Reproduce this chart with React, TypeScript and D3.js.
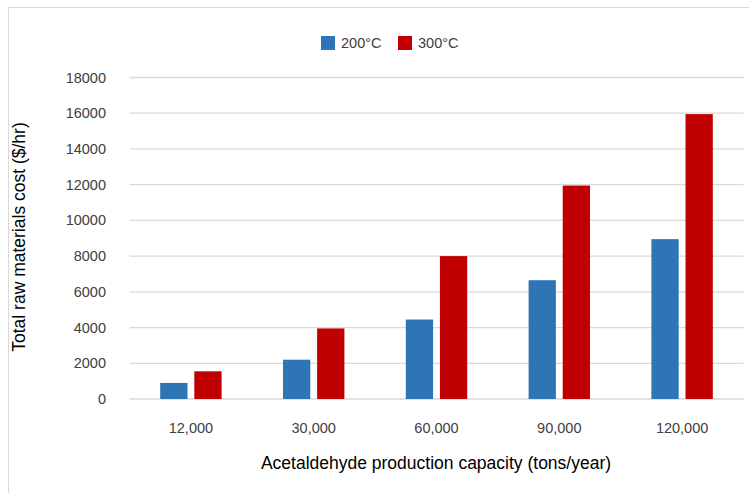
import React from "react";
import * as d3 from "d3";

const categories = ["12,000", "30,000", "60,000", "90,000", "120,000"];
const seriesNames = ["200°C", "300°C"];
const values200 = [900, 2200, 4450, 6650, 8950];
const values300 = [1550, 3950, 8000, 11950, 15950];
const yTicks = [0, 2000, 4000, 6000, 8000, 10000, 12000, 14000, 16000, 18000];
const colors = ["#2e75b6", "#c00000"];

const W = 749;
const H = 493;
const FONT = "'Liberation Sans', Arial, sans-serif";

export default function App() {
  const left = 129.5, right = 743.5, top = 77.5, bottom = 399;
  const x = d3.scaleBand<string>().domain(categories).range([left, right]).paddingInner(0).paddingOuter(0);
  const y = d3.scaleLinear().domain([0, 18000]).range([bottom, top]);
  const sub = d3.scaleBand<string>().domain(seriesNames).range([0, x.bandwidth()]).paddingInner(0.2).paddingOuter(0.9);
  const series = [values200, values300];

  return (
    <svg width={W} height={H} style={{ position: "absolute", left: 0, top: 0, background: "#fff" }} fontFamily={FONT}>
      <rect x={8.5} y={7.5} width={800} height={600} fill="#fff" stroke="#d9d9d9" />
      {yTicks.map((t) => (
        <g key={t}>
          <line x1={left} x2={right} y1={y(t)} y2={y(t)} stroke="#d9d9d9" strokeWidth={1.3} />
          <text x={106} y={y(t)} dy="0.35em" textAnchor="end" fontSize={14.5} fill="#404040">
            {t}
          </text>
        </g>
      ))}
      {categories.map((c, i) => (
        <g key={c} transform={`translate(${x(c)},0)`}>
          {seriesNames.map((s, j) => (
            <rect
              key={s}
              x={sub(s)}
              width={sub.bandwidth()}
              y={y(series[j][i])}
              height={bottom - y(series[j][i])}
              fill={colors[j]}
            />
          ))}
          <text x={x.bandwidth() / 2} y={428} dy="0.35em" textAnchor="middle" fontSize={14.5} fill="#404040">
            {c}
          </text>
        </g>
      ))}
      <text x={436} y={463} dy="0.35em" textAnchor="middle" fontSize={17.5} fill="#000">
        Acetaldehyde production capacity (tons/year)
      </text>
      <text
        transform={`translate(19,237) rotate(-90)`}
        dy="0.35em"
        textAnchor="middle"
        fontSize={17.5}
        fill="#000"
      >
        Total raw materials cost ($/hr)
      </text>
      {seriesNames.map((s, j) => (
        <g key={s} transform={`translate(${j === 0 ? 321 : 398},36)`}>
          <rect width={14} height={14} fill={colors[j]} />
          <text x={20} y={7} dy="0.35em" fontSize={14.5} fill="#404040">
            {s}
          </text>
        </g>
      ))}
    </svg>
  );
}
